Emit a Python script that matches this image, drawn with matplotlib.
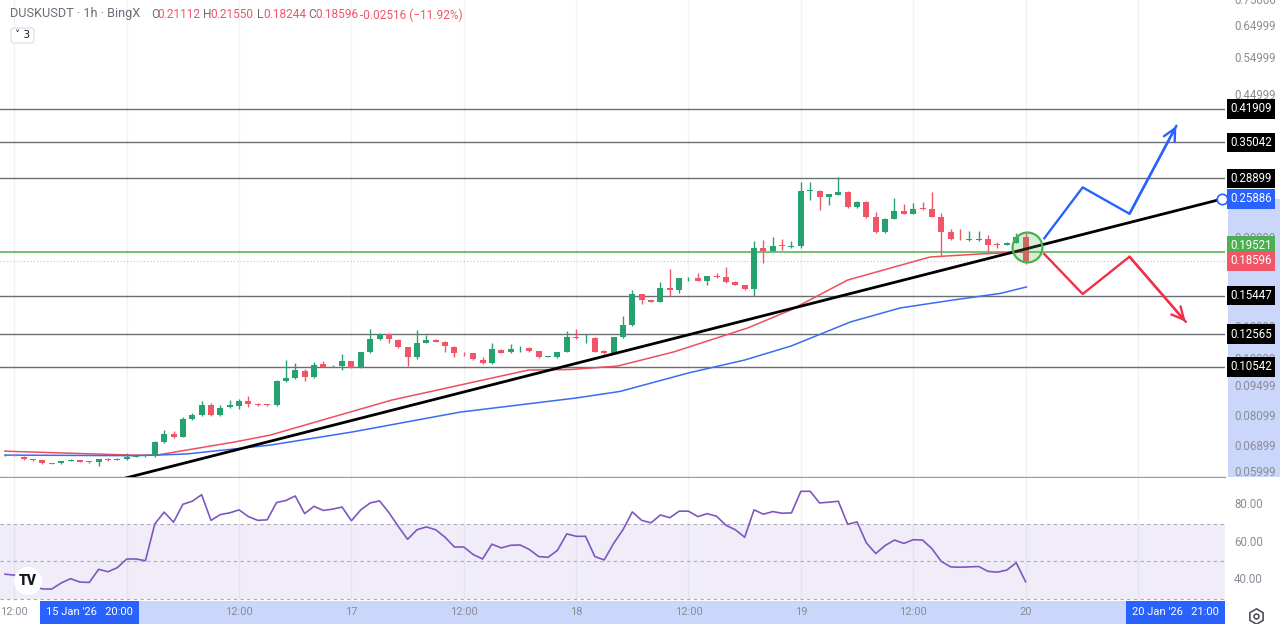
import matplotlib
matplotlib.use('Agg')
import matplotlib.pyplot as plt
from matplotlib.transforms import blended_transform_factory
from matplotlib.patches import Rectangle, Circle, FancyBboxPatch
from matplotlib.ticker import NullLocator

# ---------------- data (hourly candles, index 0 = 15 Jan 11:00) ----------------
opens = [
    0.0657, 0.0659, 0.0652, 0.0643, 0.0640, 0.0631, 0.0630, 0.0638, 0.0640, 0.0635,
    0.0633, 0.0645, 0.0642, 0.0644, 0.0653, 0.0655, 0.0656, 0.0705, 0.0736, 0.0726,
    0.0797, 0.0815, 0.0861, 0.0815, 0.0849, 0.0856, 0.0877, 0.0866, 0.0861, 0.0860,
    0.0976, 0.0992, 0.1033, 0.0997, 0.1069, 0.1058, 0.1061, 0.1086, 0.1050, 0.1140,
    0.1223, 0.1257, 0.1218, 0.1171, 0.1113, 0.1201, 0.1218, 0.1205, 0.1175, 0.1130,
    0.1134, 0.1094, 0.1075, 0.1154, 0.1140, 0.1158, 0.1165, 0.1148, 0.1112, 0.1110,
    0.1142, 0.1240, 0.1229, 0.1233, 0.1150, 0.1134, 0.1235, 0.1319, 0.1555, 0.1508,
    0.1492, 0.1606, 0.1589, 0.1693, 0.1693, 0.1669, 0.1714, 0.1702, 0.1662, 0.1634,
    0.1597, 0.1988, 0.1960, 0.2020, 0.1999, 0.2013, 0.2705, 0.2705, 0.2620, 0.2650,
    0.2690, 0.2475, 0.2551, 0.2347, 0.2166, 0.2329, 0.2431, 0.2391, 0.2457, 0.2450,
    0.2354, 0.2166, 0.2087, 0.2079, 0.2079, 0.2090, 0.2025, 0.2025, 0.2050, 0.21112]
highs = [
    0.0662, 0.0661, 0.0655, 0.0645, 0.0642, 0.0632, 0.0638, 0.0643, 0.0642, 0.0637,
    0.0646, 0.0647, 0.0648, 0.0666, 0.0658, 0.0660, 0.0708, 0.0754, 0.0750, 0.0808,
    0.0826, 0.0880, 0.0871, 0.0861, 0.0883, 0.0887, 0.0901, 0.0870, 0.0866, 0.0981,
    0.1094, 0.1078, 0.1040, 0.1080, 0.1090, 0.1066, 0.1128, 0.1090, 0.1143, 0.1289,
    0.1262, 0.1262, 0.1222, 0.1175, 0.1284, 0.1250, 0.1225, 0.1210, 0.1180, 0.1140,
    0.1138, 0.1110, 0.1201, 0.1160, 0.1193, 0.1178, 0.1170, 0.1150, 0.1117, 0.1145,
    0.1277, 0.1289, 0.1257, 0.1237, 0.1153, 0.1238, 0.1384, 0.1591, 0.1560, 0.1512,
    0.1657, 0.1777, 0.1697, 0.1708, 0.1740, 0.1718, 0.1740, 0.1796, 0.1666, 0.1638,
    0.2071, 0.2079, 0.2109, 0.2088, 0.2071, 0.2839, 0.2839, 0.2720, 0.2665, 0.2916,
    0.2695, 0.2556, 0.2556, 0.2418, 0.2333, 0.2597, 0.2515, 0.2530, 0.2551, 0.2682,
    0.2400, 0.2201, 0.2210, 0.2185, 0.2185, 0.2135, 0.2061, 0.2055, 0.2162, 0.21550]
lows = [
    0.0654, 0.0654, 0.0641, 0.0638, 0.0629, 0.0628, 0.0628, 0.0636, 0.0633, 0.0632,
    0.0622, 0.0639, 0.0640, 0.0642, 0.0650, 0.0652, 0.0653, 0.0702, 0.0722, 0.0724,
    0.0795, 0.0812, 0.0812, 0.0812, 0.0846, 0.0842, 0.0852, 0.0856, 0.0856, 0.0857,
    0.0973, 0.0988, 0.0978, 0.0994, 0.1052, 0.1053, 0.1037, 0.1047, 0.1047, 0.1137,
    0.1220, 0.1197, 0.1168, 0.1059, 0.1098, 0.1198, 0.1204, 0.1144, 0.1113, 0.1120,
    0.1095, 0.1072, 0.1072, 0.1135, 0.1137, 0.1140, 0.1145, 0.1107, 0.1109, 0.1107,
    0.1139, 0.1226, 0.1197, 0.1141, 0.1131, 0.1131, 0.1232, 0.1315, 0.1476, 0.1488,
    0.1488, 0.1537, 0.1563, 0.1665, 0.1665, 0.1634, 0.1699, 0.1654, 0.1630, 0.1594,
    0.1544, 0.1841, 0.1955, 0.1970, 0.1995, 0.1995, 0.2574, 0.2440, 0.2506, 0.2640,
    0.2470, 0.2470, 0.2343, 0.2162, 0.2162, 0.2325, 0.2387, 0.2387, 0.2445, 0.2350,
    0.1908, 0.2083, 0.2075, 0.2070, 0.2068, 0.1952, 0.1990, 0.2020, 0.2045, 0.18244]
closes = [
    0.0659, 0.0656, 0.0643, 0.0640, 0.0631, 0.0629, 0.0636, 0.0641, 0.0635, 0.0634,
    0.0644, 0.0641, 0.0646, 0.0653, 0.0655, 0.0656, 0.0705, 0.0736, 0.0726, 0.0797,
    0.0815, 0.0861, 0.0815, 0.0847, 0.0858, 0.0877, 0.0866, 0.0859, 0.0860, 0.0978,
    0.0992, 0.1037, 0.0997, 0.1065, 0.1055, 0.1061, 0.1086, 0.1050, 0.1140, 0.1223,
    0.1257, 0.1223, 0.1171, 0.1113, 0.1197, 0.1218, 0.1207, 0.1180, 0.1134, 0.1128,
    0.1098, 0.1075, 0.1158, 0.1138, 0.1158, 0.1158, 0.1148, 0.1110, 0.1114, 0.1142,
    0.1240, 0.1229, 0.1229, 0.1144, 0.1134, 0.1235, 0.1319, 0.1555, 0.1508, 0.1492,
    0.1606, 0.1589, 0.1693, 0.1693, 0.1669, 0.1714, 0.1702, 0.1657, 0.1634, 0.1597,
    0.1988, 0.1960, 0.2015, 0.2013, 0.2013, 0.2705, 0.2715, 0.2620, 0.2658, 0.2690,
    0.2475, 0.2551, 0.2347, 0.2166, 0.2329, 0.2431, 0.2391, 0.2457, 0.2450, 0.2354,
    0.2166, 0.2087, 0.2085, 0.2093, 0.2093, 0.2025, 0.2022, 0.2050, 0.2109, 0.18596]

rsi = [
    43.0, 42.5, 40.0, 37.0, 35.1, 35.1, 38.3, 40.6, 38.8, 38.6,
    45.6, 44.3, 46.5, 51.1, 51.1, 50.2, 69.8, 76.1, 70.7, 80.3,
    81.9, 85.4, 71.7, 74.8, 75.7, 77.3, 73.7, 71.7, 72.0, 81.2,
    82.3, 84.7, 75.3, 79.2, 77.0, 77.7, 78.8, 71.5, 77.3, 81.0,
    82.1, 75.9, 68.5, 61.6, 66.7, 68.2, 66.7, 62.7, 57.5, 57.5,
    53.5, 51.1, 59.0, 57.0, 58.4, 58.6, 56.2, 52.4, 52.0, 55.7,
    64.5, 63.2, 63.2, 52.4, 50.6, 59.4, 66.7, 76.2, 71.7, 70.4,
    74.6, 73.1, 76.6, 76.6, 73.7, 75.3, 73.9, 69.1, 66.7, 62.7,
    77.3, 75.0, 76.4, 75.5, 75.7, 87.2, 87.2, 81.0, 81.4, 81.9,
    69.6, 70.9, 59.7, 54.0, 58.3, 61.2, 59.4, 61.4, 61.2, 56.6,
    49.8, 46.9, 46.7, 46.9, 47.1, 44.5, 44.1, 45.2, 49.1, 39.0]

ma_fast_x = [0, 6.6, 13.7, 16.2, 19.4, 24.4, 28.3, 34.7, 41.3, 48.6, 55.9, 60.4,
             65.4, 71.4, 79.3, 83.9, 90, 98.8, 104.2, 109]
ma_fast = [0.0672, 0.0665, 0.0658, 0.0658, 0.0676, 0.0705, 0.0732, 0.0803, 0.0883,
           0.0957, 0.1037, 0.1040, 0.1059, 0.1142, 0.1298, 0.1429, 0.1678, 0.1898,
           0.1929, 0.1950]
ma_slow_x = [0, 13.7, 16.2, 19.4, 28.3, 37, 48.6, 61, 65.7, 73, 79, 84, 90.3, 95.6,
             101, 106.3, 109.1]
ma_slow = [0.0658, 0.0656, 0.0658, 0.0662, 0.0694, 0.0744, 0.0828, 0.0893, 0.0925,
           0.1021, 0.1094, 0.1180, 0.1341, 0.1445, 0.1505, 0.1562, 0.1617]

levels = [0.41909, 0.35042, 0.28899, 0.15447, 0.12565, 0.10542]
support_level = 0.19521
last_close = 0.18596
trend_x = [9, 130]
trend_y = [0.0554, 0.25886]
up_x = [111.0, 115.1, 120.1, 125.1]
up_y = [0.2098, 0.2754, 0.2391, 0.3824]
dn_x = [111.0, 115.1, 120.1, 126.1]
dn_y = [0.1928, 0.1557, 0.1901, 0.1343]
focus_x, focus_y = 109.1, 0.1999

price_ticks = [0.75000, 0.64999, 0.54999, 0.44999, 0.24999, 0.20999, 0.17999,
               0.14999, 0.12999, 0.10999, 0.09499, 0.08099, 0.06899, 0.05999]
rsi_ticks = [80, 60, 40]
time_ticks = [1, 25, 37, 49, 61, 73, 85, 97, 109]
time_labels = ['12:00', '12:00', '17', '12:00', '18', '12:00', '19', '12:00', '20']
grid_ticks = [1, 13, 25, 37, 49, 61, 73, 85, 97, 109, 121]

# ---------------- styling ----------------
UP = '#26a270'
DN = '#f05667'
BLUE = '#2962ff'
GREEN = '#4caf50'
GRAY_TXT = '#8a8d96'
NUM_FONT = ['Roboto', 'DejaVu Sans']

W, H = 1280, 624
fig = plt.figure(figsize=(W / 100, H / 100), dpi=100)
fig.patch.set_facecolor('white')

ax = fig.add_axes([0, 147 / H, 1225 / W, 477 / H])
axr = fig.add_axes([0, 23 / H, 1225 / W, 123 / H])

YMIN, YMAX = 0.05853, 0.750
XMIN, XMAX = -0.534, 130.3

for a in (ax, axr):
    a.set_xlim(XMIN, XMAX)
    for s in a.spines.values():
        s.set_visible(False)
    a.tick_params(left=False, right=False, bottom=False, top=False,
                  labelleft=False, labelbottom=False)
    for g in grid_ticks:
        a.axvline(g, color='#f1f2f6', lw=1, zorder=0)

ax.set_yscale('log')
ax.set_ylim(YMIN, YMAX)
ax.yaxis.set_major_locator(NullLocator())
ax.yaxis.set_minor_locator(NullLocator())
ax.spines['bottom'].set_visible(True)
ax.spines['bottom'].set_color('#9a9da6')
ax.spines['bottom'].set_linewidth(1)

# level lines
for lv in levels:
    ax.axhline(lv, color='#6b6d75', lw=1, zorder=1)
ax.axhline(support_level, color=GREEN, lw=1.1, zorder=1)
ax.axhline(last_close, color=DN, lw=0.8, ls=(0, (1, 2)), alpha=0.5, zorder=1)

# moving averages
ax.plot(ma_fast_x, ma_fast, color='#ef4f5c', lw=1.1, zorder=2)
ax.plot(ma_slow_x, ma_slow, color='#3b6cf0', lw=1.1, zorder=2)

# candles
for i, (o, h, l, c) in enumerate(zip(opens, highs, lows, closes)):
    col = UP if c >= o else DN
    ax.vlines(i, l, h, color=col, lw=1, zorder=3)
    lo, hi = min(o, c), max(o, c)
    hi = max(hi, lo * 1.004)
    ax.bar(i, hi - lo, bottom=lo, width=0.64, color=col, zorder=3, linewidth=0)

# trend line
ax.plot(trend_x, trend_y, color='black', lw=2, zorder=4, solid_capstyle='round')
ax.plot([trend_x[1]], [trend_y[1]], 'o', ms=7.5, mfc='white', mec=BLUE, mew=1.2,
        zorder=6, clip_on=False)

# scenario arrows
ax.plot(up_x, up_y, color=BLUE, lw=1.7, zorder=5)
ax.annotate('', xy=(up_x[-1], up_y[-1]), xytext=(up_x[-2], up_y[-2]),
            arrowprops=dict(arrowstyle='->', color=BLUE, lw=1.7, mutation_scale=22,
                            shrinkA=0, shrinkB=0), zorder=5)
ax.plot(dn_x, dn_y, color='#ef3048', lw=1.7, zorder=5)
ax.annotate('', xy=(dn_x[-1], dn_y[-1]), xytext=(dn_x[-2], dn_y[-2]),
            arrowprops=dict(arrowstyle='->', color='#ef3048', lw=1.7, mutation_scale=22,
                            shrinkA=0, shrinkB=0), zorder=5)

# highlight circle
ax.plot([focus_x], [focus_y], 'o', ms=21.5, mfc=(0.30, 0.69, 0.31, 0.22),
        mec=GREEN, mew=1.6, zorder=6)

# right price axis
bt = blended_transform_factory(ax.transAxes, ax.transData)
ax.add_patch(Rectangle((1.0025, YMIN), 0.045, trend_y[1] - YMIN, transform=bt,
                       fc='#cad7fb', ec='none', clip_on=False, zorder=0.5))
for p in price_ticks:
    ax.text(1.0075, p, f'{p:.5f}', transform=bt, ha='left', va='center',
            fontsize=8.3, color=GRAY_TXT, family=NUM_FONT, clip_on=False, zorder=7)


def price_box(p, fc, dy=0):
    ax.annotate(f'{p:.5f}', xy=(1.0045, p), xycoords=bt, xytext=(0, dy),
                textcoords='offset pixels', ha='left', va='center',
                fontsize=8.3, color='white', family=NUM_FONT, annotation_clip=False,
                zorder=9, bbox=dict(boxstyle='square,pad=0.28', fc=fc, ec='none'))


for lv in levels:
    price_box(lv, '#000000')
price_box(trend_y[1], BLUE)
price_box(support_level, GREEN, dy=6)
price_box(last_close, '#f05667')

# ---------------- RSI pane ----------------
axr.set_ylim(28.7, 94.3)
axr.axhspan(30, 70, color='#7e57c2', alpha=0.1, lw=0, zorder=0)
for lv in (70, 50, 30):
    axr.axhline(lv, color='#a8abb5', lw=0.8, ls=(0, (3, 3)), zorder=1)
axr.plot(range(len(rsi)), rsi, color='#7e57c2', lw=1.2, zorder=3)
btr = blended_transform_factory(axr.transAxes, axr.transData)
for r in rsi_ticks:
    axr.text(1.0075, r, f'{r:.2f}', transform=btr, ha='left', va='center',
             fontsize=8.3, color=GRAY_TXT, family=NUM_FONT, clip_on=False)

# ---------------- time axis ----------------
btx = blended_transform_factory(axr.transData, axr.transAxes)
axr.add_patch(Rectangle((trend_x[0], -0.19), trend_x[1] - trend_x[0], 0.19, transform=btx,
                        fc='#cad7fb', ec='none', clip_on=False, zorder=0.5))
for t, lab in zip(time_ticks, time_labels):
    axr.text(t, -0.093, lab, transform=btx, ha='center', va='center', fontsize=8,
             color=GRAY_TXT, family=NUM_FONT, clip_on=False, zorder=2)
axr.text(trend_x[0], -0.093, "15 Jan '26   20:00", transform=btx, ha='center',
         va='center', fontsize=8, color='white', family=NUM_FONT, clip_on=False, zorder=4,
         bbox=dict(boxstyle='square,pad=0.55', fc=BLUE, ec='none'))
axr.text(trend_x[1] - 0.35, -0.093, "20 Jan '26   21:00", transform=btx, ha='right',
         va='center', fontsize=8, color='white', family=NUM_FONT, clip_on=False, zorder=4,
         bbox=dict(boxstyle='square,pad=0.55', fc=BLUE, ec='none'))

# ---------------- overlay decorations (pixel space) ----------------
ov = fig.add_axes([0, 0, 1, 1], zorder=10)
ov.set_xlim(0, W)
ov.set_ylim(H, 0)
ov.axis('off')
ov.patch.set_alpha(0)

ov.add_patch(Circle((28, 581), 14, fc='white', ec='none'))
ov.text(28, 581, 'TV', ha='center', va='center', fontsize=10, fontweight='heavy',
        color='#131722', family=NUM_FONT)
ov.plot([1256], [616], marker='h', ms=11, mfc='none', mec='#50535e', mew=1.2)
ov.plot([1256], [616], marker='o', ms=3.5, mfc='none', mec='#50535e', mew=1.2)

ov.add_patch(FancyBboxPatch((11, 28), 23, 15, boxstyle='round,pad=0,rounding_size=3',
                            fc='white', ec='#e0e3eb', lw=1))
ov.text(22.5, 35.5, '˅ 3', ha='center', va='center', fontsize=7.5, color='#131722',
        family=['DejaVu Sans'])

ov.text(10, 14, 'DUSKUSDT · 1h · BingX', ha='left', va='center', fontsize=9.2,
        color='#6a6d78', family=NUM_FONT)
hdr = [(151, 'O', '#6a6d78'), (157, '0.21112', DN), (203, 'H', '#6a6d78'),
       (210, '0.21550', DN), (257, 'L', '#6a6d78'), (263, '0.18244', DN),
       (308, 'C', '#6a6d78'), (315, '0.18596', DN), (360, '-0.02516 (−11.92%)', DN)]
for x, s, col in hdr:
    ov.text(x, 15, s, ha='left', va='center', fontsize=8.6, color=col, family=NUM_FONT)

fig.savefig('out.png', dpi=100, facecolor='white')
